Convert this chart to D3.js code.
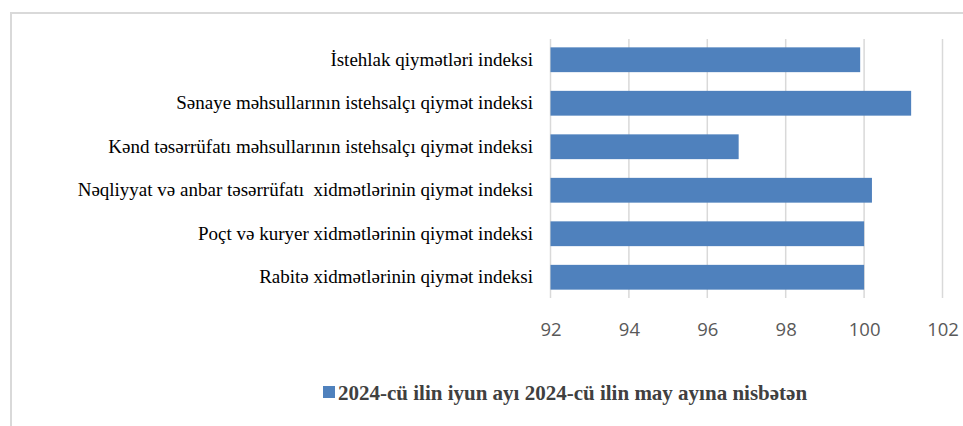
<!DOCTYPE html>
<html><head><meta charset="utf-8">
<script src="https://cdn.jsdelivr.net/npm/d3@7"></script>
<style>html,body{margin:0;padding:0;background:#fff;}svg{display:block;}</style>
</head><body>
<svg id="c" width="963" height="426"></svg>
<script>
const categories = [
  "İstehlak qiymətləri indeksi",
  "Sənaye məhsullarının istehsalçı qiymət indeksi",
  "Kənd təsərrüfatı məhsullarının istehsalçı qiymət indeksi",
  "Nəqliyyat və anbar təsərrüfatı  xidmətlərinin qiymət indeksi",
  "Poçt və kuryer xidmətlərinin qiymət indeksi",
  "Rabitə xidmətlərinin qiymət indeksi"
];
const values = [99.9, 101.2, 96.8, 100.2, 100.0, 100.0];
const xTicks = [92, 94, 96, 98, 100, 102];
const seriesName = "2024-cü ilin iyun ayı 2024-cü ilin may ayına nisbətən";

const svg = d3.select("#c");
svg.append("rect").attr("x", 11).attr("y", 13).attr("width", 1000).attr("height", 500)
  .attr("fill", "none").attr("stroke", "#d9d9d9").attr("stroke-width", 2);

const x = d3.scaleLinear().domain([92, 102]).range([550.5, 942.5]);
const y = d3.scaleBand().domain(categories).range([38, 299]).paddingInner(0.43).paddingOuter(0.215);

svg.append("g").selectAll("line").data(xTicks).join("line")
  .attr("x1", d => x(d)).attr("x2", d => x(d))
  .attr("y1", 39).attr("y2", 298)
  .attr("stroke", "#d9d9d9").attr("stroke-width", 1.5);

svg.append("g").selectAll("rect").data(values).join("rect")
  .attr("x", x(92)).attr("y", (d, i) => y(categories[i]))
  .attr("width", d => x(d) - x(92)).attr("height", y.bandwidth())
  .attr("fill", "#4f81bd");

const xAxis = d3.axisBottom(x).tickValues(xTicks).tickSize(0).tickPadding(0);
const gx = svg.append("g").attr("transform", "translate(0,323)").call(xAxis);
gx.select(".domain").remove();
gx.selectAll("text").style("font-family", "'Open Sans', sans-serif")
  .style("font-size", "18.5px").attr("fill", "#595959");

const yAxis = d3.axisLeft(y).tickSize(0).tickPadding(0);
const gy = svg.append("g").attr("transform", "translate(533,0)").call(yAxis);
gy.select(".domain").remove();
gy.selectAll("text").style("font-family", "'Liberation Serif', serif")
  .style("font-size", "19px").attr("fill", "#000").style("white-space", "pre");

const lg = svg.append("g");
lg.append("rect").attr("x", 323).attr("y", 386).attr("width", 12).attr("height", 12).attr("fill", "#4f81bd");
lg.append("text").attr("x", 338).attr("y", 400)
  .style("font-family", "'Liberation Serif', serif").style("font-weight", "bold")
  .style("font-size", "21px").attr("fill", "#404040").text(seriesName);
</script>
</body></html>
